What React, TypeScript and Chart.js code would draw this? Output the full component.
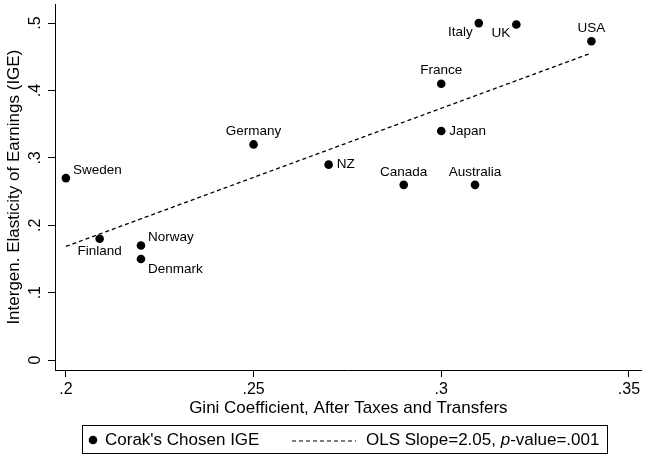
import React, { useEffect, useRef } from "react";
import { Chart, registerables } from "chart.js";

Chart.register(...registerables);

// Countries and their Gini coefficient (after taxes and transfers) and IGE
const countries = [
  "Sweden", "Finland", "Norway", "Denmark", "Germany", "NZ", "Canada",
  "Australia", "Japan", "France", "Italy", "UK", "USA",
];
const gini = [0.2, 0.209, 0.22, 0.22, 0.25, 0.27, 0.29, 0.309, 0.3, 0.3, 0.31, 0.32, 0.34];
const ige = [0.27, 0.18, 0.17, 0.15, 0.32, 0.29, 0.26, 0.26, 0.34, 0.41, 0.5, 0.498, 0.473];

// OLS fit over the observed Gini range
const olsSlope = 2.05;
const olsIntercept = -0.2414;
const fitRange = [0.2, 0.34];

const xTicks = [0.2, 0.25, 0.3, 0.35];
const yTicks = [0, 0.1, 0.2, 0.3, 0.4, 0.5];

// Marker label positions, clock style (3 = right, 12 = above, ...)
const labelClock: Record<string, number> = {
  Sweden: 2, Finland: 6, Norway: 2, Denmark: 4, Germany: 12, NZ: 3, Canada: 12,
  Australia: 12, Japan: 3, France: 12, Italy: 8, UK: 8, USA: 12,
};

const FONT = "'Liberation Sans', Arial, Helvetica, sans-serif";

const fmt = (v: number) => {
  if (v === 0) return "0";
  return String(Number(v.toFixed(3))).replace(/^0/, "");
};

const overlay = {
  id: "overlay",
  afterDraw(chart: any) {
    const ctx = chart.ctx as CanvasRenderingContext2D;
    const xs = chart.scales.x;
    const ys = chart.scales.y;
    ctx.save();
    ctx.fillStyle = "#000";

    // y tick labels, rotated
    ctx.font = `16px ${FONT}`;
    ctx.textAlign = "center";
    ctx.textBaseline = "middle";
    yTicks.forEach((v) => {
      const py = ys.getPixelForValue(v);
      ctx.save();
      ctx.translate(36, py);
      ctx.rotate(-Math.PI / 2);
      ctx.fillText(fmt(v), 0, 0);
      ctx.restore();
    });

    // axis titles
    ctx.font = `17px ${FONT}`;
    ctx.save();
    ctx.translate(14, (chart.chartArea.top + chart.chartArea.bottom) / 2);
    ctx.rotate(-Math.PI / 2);
    ctx.fillText("Intergen. Elasticity of Earnings (IGE)", 0, 0);
    ctx.restore();
    ctx.fillText("Gini Coefficient, After Taxes and Transfers", (chart.chartArea.left + chart.chartArea.right) / 2, 408);

    // marker labels
    ctx.font = `13.5px ${FONT}`;
    countries.forEach((name, i) => {
      const px = xs.getPixelForValue(gini[i]);
      const py = ys.getPixelForValue(ige[i]);
      const clock = labelClock[name];
      let tx = px, ty = py;
      if (clock === 3) { ctx.textAlign = "left"; tx = px + 8; ty = py; }
      else if (clock === 2) { ctx.textAlign = "left"; tx = px + 7; ty = py - 8; }
      else if (clock === 4) { ctx.textAlign = "left"; tx = px + 7; ty = py + 10; }
      else if (clock === 12) { ctx.textAlign = "center"; ty = py - 13; }
      else if (clock === 6) { ctx.textAlign = "center"; ty = py + 13; }
      else if (clock === 8) { ctx.textAlign = "right"; tx = px - 6; ty = py + 9; }
      ctx.fillText(name, tx, ty);
    });

    // legend
    const cy = 440;
    ctx.font = `17px ${FONT}`;
    ctx.textAlign = "left";
    ctx.beginPath();
    ctx.arc(93, cy, 4.3, 0, Math.PI * 2);
    ctx.fill();
    ctx.fillText("Corak's Chosen IGE", 105, cy);
    ctx.strokeStyle = "#000";
    ctx.beginPath();
    ctx.setLineDash([4, 3]);
    ctx.lineWidth = 1.2;
    ctx.moveTo(292, cy + 1);
    ctx.lineTo(356, cy + 1);
    ctx.stroke();
    ctx.setLineDash([]);
    let tx = 366;
    const part1 = "OLS Slope=2.05, ";
    ctx.fillText(part1, tx, cy);
    tx += ctx.measureText(part1).width;
    ctx.font = `italic 17px ${FONT}`;
    ctx.fillText("p", tx, cy);
    tx += ctx.measureText("p").width;
    ctx.font = `17px ${FONT}`;
    ctx.fillText("-value=.001", tx, cy);
    tx += ctx.measureText("-value=.001").width;
    ctx.lineWidth = 1;
    const lx = 82.5, ly = 425.5;
    ctx.strokeRect(lx, ly, Math.round(tx + 8) - lx + 0.5, 28);
    ctx.restore();
  },
};

export default function App() {
  const ref = useRef<HTMLCanvasElement>(null);
  useEffect(() => {
    if (!ref.current) return;
    const points = gini.map((g, i) => ({ x: g, y: ige[i] }));
    const fit = fitRange.map((g) => ({ x: g, y: olsIntercept + olsSlope * g }));
    const chart = new Chart(ref.current, {
      type: "scatter",
      data: {
        datasets: [
          {
            label: "Corak's Chosen IGE",
            data: points,
            pointRadius: 4.3,
            pointBackgroundColor: "#000",
            pointBorderColor: "#000",
            pointBorderWidth: 0,
          },
          {
            label: "OLS",
            type: "line",
            data: fit,
            borderColor: "#000",
            borderWidth: 1.3,
            borderDash: [4, 3],
            pointRadius: 0,
            fill: false,
          } as any,
        ],
      },
      options: {
        animation: false,
        responsive: false,
        layout: { padding: 0 },
        plugins: { legend: { display: false }, tooltip: { enabled: false } },
        scales: {
          x: {
            type: "linear",
            min: 0.1971,
            max: 0.3534,
            afterFit: (s: any) => { s.height = 85; },
            afterBuildTicks: (s: any) => { s.ticks = xTicks.map((v) => ({ value: v })); },
            grid: { display: true, drawOnChartArea: false, drawTicks: true, tickLength: 7, color: "#000", lineWidth: 1 },
            border: { display: true, color: "#000", width: 1 },
            ticks: {
              color: "#000",
              font: { family: FONT, size: 16 },
              padding: 3,
              maxRotation: 0,
              callback: (v: any) => fmt(Number(v)),
            },
          },
          y: {
            type: "linear",
            min: -0.0147,
            max: 0.5279,
            afterFit: (s: any) => { s.width = 55; },
            afterBuildTicks: (s: any) => { s.ticks = yTicks.map((v) => ({ value: v })); },
            grid: { display: true, drawOnChartArea: false, drawTicks: true, tickLength: 7, color: "#000", lineWidth: 1 },
            border: { display: true, color: "#000", width: 1 },
            ticks: { display: false },
          },
        },
      },
      plugins: [overlay],
    });
    return () => chart.destroy();
  }, []);
  return (
    <div style={{ position: "fixed", left: 0, top: 0, width: 646, height: 455, background: "#fff" }}>
      <canvas ref={ref} width={646} height={455} style={{ width: 646, height: 455 }} />
    </div>
  );
}
